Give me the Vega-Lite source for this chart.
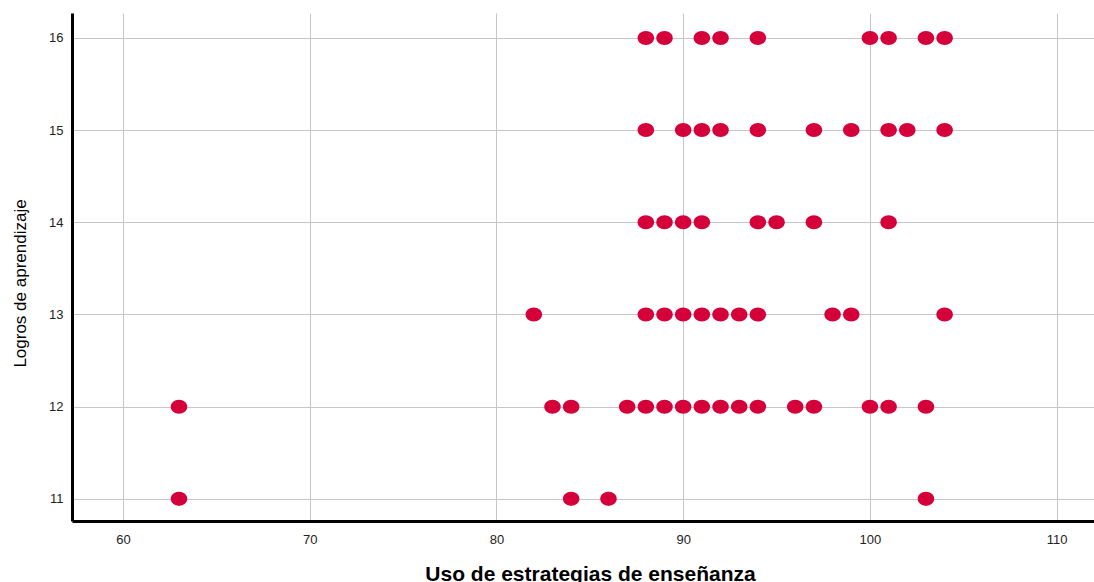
{
  "$schema": "https://vega.github.io/schema/vega-lite/v6.json",
  "width": 1022,
  "height": 508,
  "autosize": "none",
  "padding": {"left": 72, "top": 13, "right": 0, "bottom": 61},
  "background": "white",
  "config": {
    "view": {"stroke": null},
    "font": "Liberation Sans",
    "axis": {
      "domainColor": "#000000",
      "domainWidth": 3,
      "gridColor": "#c6c6c6",
      "gridWidth": 1,
      "ticks": false,
      "labelFont": "Liberation Sans",
      "labelFontSize": 13,
      "labelColor": "#222222",
      "titleFont": "Liberation Sans",
      "titleColor": "#000000"
    }
  },
  "data": {
    "values": [
      {"estrategias": 88, "logros": 16}, {"estrategias": 89, "logros": 16}, {"estrategias": 91, "logros": 16},
      {"estrategias": 92, "logros": 16}, {"estrategias": 94, "logros": 16}, {"estrategias": 100, "logros": 16},
      {"estrategias": 101, "logros": 16}, {"estrategias": 103, "logros": 16}, {"estrategias": 104, "logros": 16},
      {"estrategias": 88, "logros": 15}, {"estrategias": 90, "logros": 15}, {"estrategias": 91, "logros": 15},
      {"estrategias": 92, "logros": 15}, {"estrategias": 94, "logros": 15}, {"estrategias": 97, "logros": 15},
      {"estrategias": 99, "logros": 15}, {"estrategias": 101, "logros": 15}, {"estrategias": 102, "logros": 15},
      {"estrategias": 104, "logros": 15},
      {"estrategias": 88, "logros": 14}, {"estrategias": 89, "logros": 14}, {"estrategias": 90, "logros": 14},
      {"estrategias": 91, "logros": 14}, {"estrategias": 94, "logros": 14}, {"estrategias": 95, "logros": 14},
      {"estrategias": 97, "logros": 14}, {"estrategias": 101, "logros": 14},
      {"estrategias": 82, "logros": 13}, {"estrategias": 88, "logros": 13}, {"estrategias": 89, "logros": 13},
      {"estrategias": 90, "logros": 13}, {"estrategias": 91, "logros": 13}, {"estrategias": 92, "logros": 13},
      {"estrategias": 93, "logros": 13}, {"estrategias": 94, "logros": 13}, {"estrategias": 98, "logros": 13},
      {"estrategias": 99, "logros": 13}, {"estrategias": 104, "logros": 13},
      {"estrategias": 63, "logros": 12}, {"estrategias": 83, "logros": 12}, {"estrategias": 84, "logros": 12},
      {"estrategias": 87, "logros": 12}, {"estrategias": 88, "logros": 12}, {"estrategias": 89, "logros": 12},
      {"estrategias": 90, "logros": 12}, {"estrategias": 91, "logros": 12}, {"estrategias": 92, "logros": 12},
      {"estrategias": 93, "logros": 12}, {"estrategias": 94, "logros": 12}, {"estrategias": 96, "logros": 12},
      {"estrategias": 97, "logros": 12}, {"estrategias": 100, "logros": 12}, {"estrategias": 101, "logros": 12},
      {"estrategias": 103, "logros": 12},
      {"estrategias": 63, "logros": 11}, {"estrategias": 84, "logros": 11}, {"estrategias": 86, "logros": 11},
      {"estrategias": 103, "logros": 11}
    ]
  },
  "mark": {
    "type": "point",
    "filled": true,
    "opacity": 1,
    "shape": "M -1 0 A 1 0.85 0 1 0 1 0 A 1 0.85 0 1 0 -1 0 Z",
    "size": 272,
    "color": "#d5003a",
    "clip": false
  },
  "encoding": {
    "x": {
      "field": "estrategias",
      "type": "quantitative",
      "title": "Uso de estrategias de enseñanza",
      "scale": {"domain": [57.27, 112], "nice": false, "zero": false},
      "axis": {
        "values": [60, 70, 80, 90, 100, 110],
        "labelPadding": 12,
        "titlePadding": 17,
        "titleX": 518,
        "titleFontSize": 21,
        "titleFontWeight": "bold"
      }
    },
    "y": {
      "field": "logros",
      "type": "quantitative",
      "title": "Logros de aprendizaje",
      "scale": {"domain": [10.76, 16.27], "nice": false, "zero": false},
      "axis": {
        "values": [11, 12, 13, 14, 15, 16],
        "labelPadding": 9,
        "titlePadding": 19,
        "titleY": 270,
        "titleFontSize": 17,
        "titleFontWeight": "normal"
      }
    }
  }
}
